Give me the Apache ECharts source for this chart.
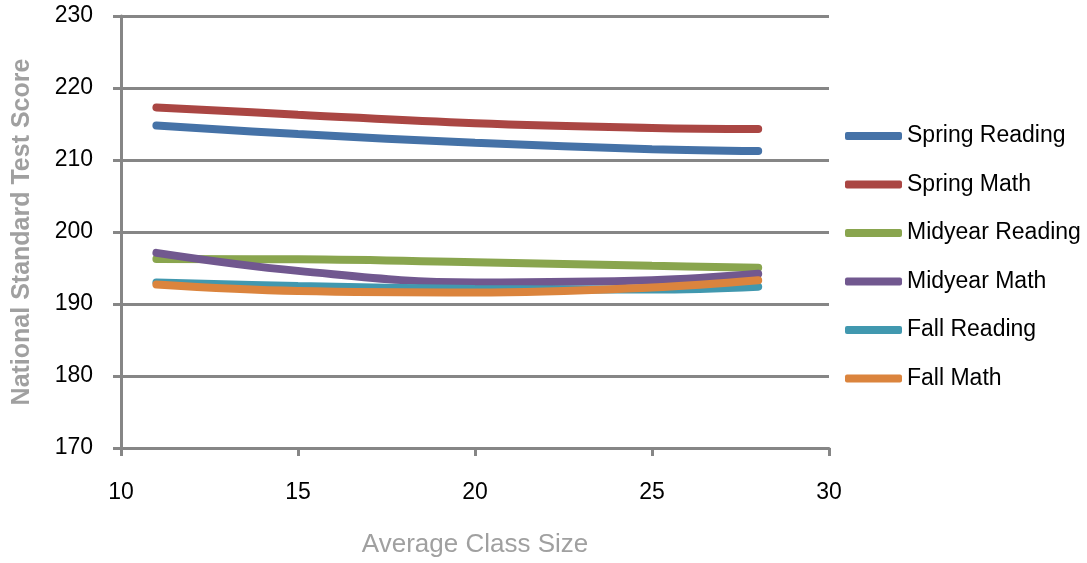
<!DOCTYPE html>
<html>
<head>
<meta charset="utf-8">
<script src="https://cdn.jsdelivr.net/npm/echarts@6/dist/echarts.min.js"></script>
<style>
  html, body { margin: 0; padding: 0; background: #fff; }
  #chart { width: 1087px; height: 563px; }
</style>
</head>
<body>
<div id="chart"></div>
<script>
// class sizes where the curves were sampled
var classSizes = [11, 15, 20, 25, 28]

var springReading = [214.8, 213.6, 212.4, 211.5, 211.25]
var springMath = [217.3, 216.3, 215.1, 214.45, 214.3]
var midyearReading = [196.25, 196.2, 195.8, 195.3, 195.05]
var midyearMath = [197.1, 194.6, 193.0, 193.3, 194.2]
var fallReading = [193.0, 192.5, 192.1, 192.0, 192.4]
var fallMath = [192.7, 191.8, 191.6, 192.3, 193.3]

var seriesNames = ['Spring Reading', 'Spring Math', 'Midyear Reading', 'Midyear Math', 'Fall Reading', 'Fall Math']
var seriesColors = ['#4572A7', '#AA4643', '#89A54E', '#71588F', '#4198AF', '#DB843D']
var seriesValues = [springReading, springMath, midyearReading, midyearMath, fallReading, fallMath]

var axisGray = '#868686'
var labelFont = 'Liberation Sans'

function pairs(values) {
  return classSizes.map(function (x, i) { return [x, values[i]] })
}

var chart = echarts.init(document.getElementById('chart'))

chart.setOption({
  animation: false,
  grid: {
    left: 121,
    right: 258,
    top: 16,
    bottom: 115,
    outerBoundsMode: 'none',
    containLabel: false
  },
  legend: {
    orient: 'vertical',
    left: 840,
    top: 119,
    itemWidth: 57,
    itemHeight: 8,
    itemGap: 24.5,
    icon: 'roundRect',
    data: seriesNames,
    textStyle: {
      fontFamily: labelFont,
      fontSize: 23,
      lineHeight: 24,
      color: '#000'
    }
  },
  xAxis: {
    type: 'value',
    min: 10,
    max: 30,
    interval: 5,
    name: 'Average Class Size',
    nameLocation: 'middle',
    nameGap: 84,
    nameTextStyle: {
      fontFamily: 'Liberation Sans',
      fontSize: 26,
      color: '#a0a0a0'
    },
    axisLine: { lineStyle: { color: axisGray, width: 3 } },
    axisTick: { show: true, length: 8, lineStyle: { color: axisGray, width: 3 } },
    axisLabel: {
      margin: 33,
      fontFamily: labelFont,
      fontSize: 23,
      color: '#000'
    },
    splitLine: { show: false }
  },
  yAxis: {
    type: 'value',
    min: 170,
    max: 230,
    interval: 10,
    name: 'National Standard Test Score',
    nameLocation: 'middle',
    nameGap: 86,
    nameTextStyle: {
      fontFamily: 'Liberation Sans',
      fontSize: 25,
      fontWeight: 'bold',
      color: '#a0a0a0'
    },
    axisLine: { show: true, lineStyle: { color: axisGray, width: 3 } },
    axisTick: { show: true, length: 8, lineStyle: { color: axisGray, width: 3 } },
    axisLabel: {
      margin: 28,
      fontFamily: labelFont,
      fontSize: 23,
      color: '#000'
    },
    splitLine: { show: true, lineStyle: { color: axisGray, width: 3 } }
  },
  series: seriesValues.map(function (values, i) {
    return {
      name: seriesNames[i],
      type: 'line',
      smooth: 0.4,
      showSymbol: false,
      color: seriesColors[i],
      lineStyle: { width: 8, cap: 'round', color: seriesColors[i] },
      data: pairs(values)
    }
  })
})
</script>
</body>
</html>
